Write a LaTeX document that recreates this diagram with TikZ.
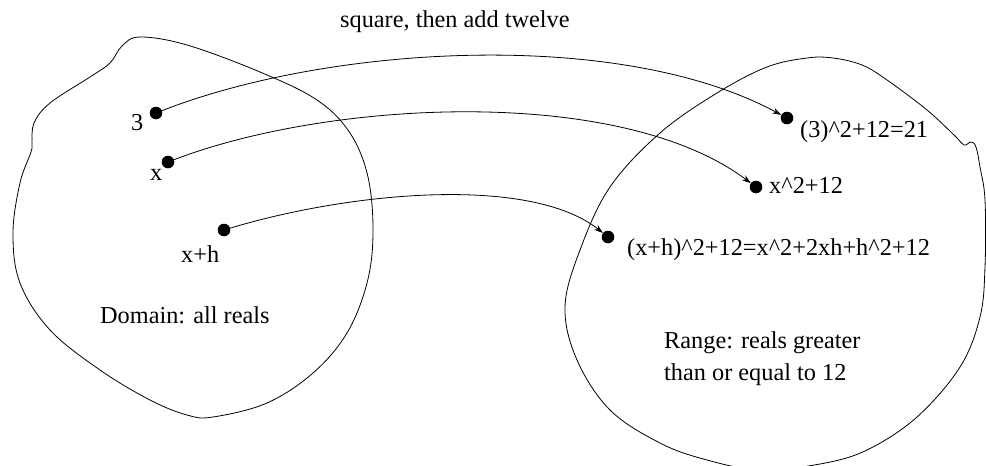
\documentclass[tikz,border=0pt]{standalone}
\usepackage{fontspec}
\setmainfont{Liberation Serif}
\usetikzlibrary{arrows.meta}
\begin{document}
\begin{tikzpicture}[x=1pt,y=-1pt,
  dot/.style={circle,fill=black,inner sep=0pt,minimum size=12.6pt},
  lbl/.style={anchor=base west,inner sep=0pt,font=\fontsize{24.3}{29}\selectfont},
  blob/.style={line width=0.8pt},
  maparrow/.style={line width=0.8pt,-{Stealth[length=9pt,width=6pt]}}]
\useasboundingbox (0,0) rectangle (986,466);
\fill[white] (0,0) rectangle (986,466);
% domain blob
\draw[blob] plot[smooth cycle,tension=0.6] coordinates {
 (140,37) (187,45) (260,72) (317,100) (350,133) (368,177) (373,233) (367,283)
 (347,333) (313,373) (267,403) (213,417) (187,415) (150,400) (100,370) (50,330)
 (20,283) (13,233) (20,183) (31,152) (32,143) (34,123) (50,103) (90,77) (110,63) (122,46)};
% range blob
\begin{scope}
\clip (0,0) rectangle (986,466);
\draw[blob] plot[smooth cycle,tension=0.6] coordinates {
 (807,58) (767,67) (717,93) (660,133) (610,187) (580,250) (565,307) (577,360)
 (610,410) (660,443) (707,460) (760,470) (820,464) (867,450) (917,417) (960,367)
 (980,317) (985,267) (985,200) (980,167) (976,147) (971,142) (964,145) (955,136)
 (927,110) (887,80) (862,65) (833,58)};
\end{scope}
% dots
\node[dot] (a3) at (156,113) {};
\node[dot] (ax) at (168,162) {};
\node[dot] (axh) at (224,230) {};
\node[dot] (b3) at (787,118) {};
\node[dot] (bx) at (756,187) {};
\node[dot] (bxh) at (608,237) {};
% labels
\node[lbl] (t) at (340,27) {square, then add twelve};
\node[lbl] (l3) at (131,130) {3};
\node[lbl] (lx) at (150,180) {x};
\node[lbl] (lxh) at (181,262) {x+h};
\node[lbl] (dom) at (100,323) {Domain: all reals};
\node[lbl] (r3) at (800,137) {(3)\textasciicircum2+12=21};
\node[lbl] (rx) at (769,193) {x\textasciicircum2+12};
\node[lbl] (rxh) at (627,255) {(x+h)\textasciicircum2+12=x\textasciicircum2+2xh+h\textasciicircum2+12};
\node[lbl] (rng1) at (664,348) {Range: reals greater};
\node[lbl] (rng2) at (664,380) {than or equal to 12};
% arrows
\draw[maparrow] (a3) .. controls (330,45) and (620,28) .. (b3);
\draw[maparrow] (ax) .. controls (330,100) and (620,85) .. (bx);
\draw[maparrow] (axh) .. controls (350,192) and (530,175) .. (bxh);
\end{tikzpicture}
\end{document}
